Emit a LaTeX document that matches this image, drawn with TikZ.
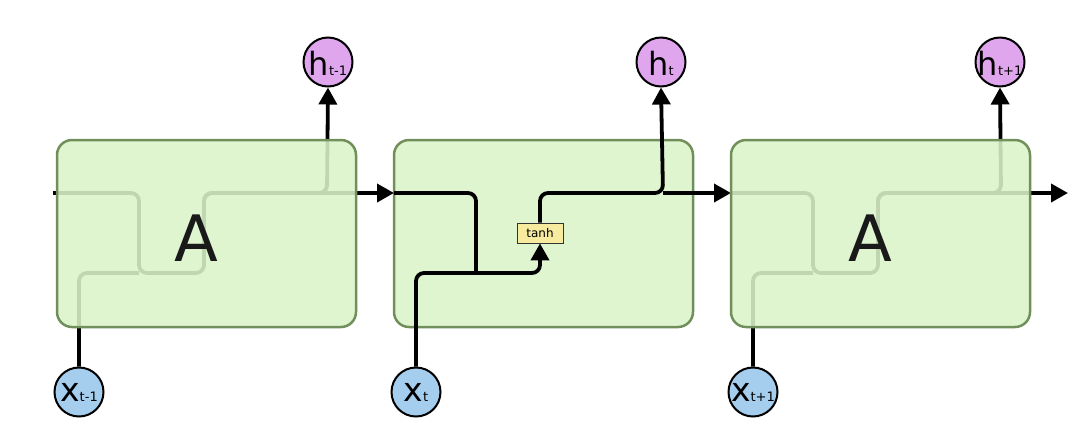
\documentclass[tikz,border=0pt]{standalone}
\usepackage{fontspec}
\setmainfont{DejaVu Sans}
\usetikzlibrary{arrows.meta}
\definecolor{boxfill}{HTML}{DFF5D0}
\definecolor{ghostfill}{HTML}{DBF4CA}
\definecolor{boxdraw}{HTML}{718F5A}
\definecolor{hfill}{HTML}{DFA6EE}
\definecolor{xfill}{HTML}{A5CDEE}
\definecolor{tanhfill}{HTML}{F7EBA0}
\tikzset{
  cell/.style={draw=boxdraw, line width=2.5pt, fill=boxfill, rounded corners=15pt,
    minimum width=299pt, minimum height=187pt, inner sep=0pt},
  ghostcell/.style={cell, fill=ghostfill, fill opacity=0.88},
  hcirc/.style={circle, draw=black, line width=2pt, fill=hfill, minimum size=49pt, inner sep=0pt},
  xcirc/.style={circle, draw=black, line width=2pt, fill=xfill, minimum size=49pt, inner sep=0pt},
  gate/.style={draw=black!80, line width=0.8pt, fill=tanhfill, minimum width=46pt,
    minimum height=20pt, inner sep=0pt, font=\fontsize{12}{12}\selectfont},
  wire/.style={line width=3.8pt, rounded corners=8pt},
  arrowwire/.style={wire, -{Triangle[length=17pt,width=18pt]}},
  bigletter/.style={font=\fontsize{64}{64}\selectfont, inner sep=0pt, text=black!90},
}
\newcommand{\hlab}[1]{{\fontsize{32}{32}\selectfont h}{\fontsize{13}{13}\selectfont #1}}
\newcommand{\xlab}[1]{{\fontsize{33}{33}\selectfont x}{\fontsize{13}{13}\selectfont #1}}
\begin{document}
\begin{tikzpicture}[x=1pt,y=-1pt]
\useasboundingbox (0,0) rectangle (1084,424);

% middle cell (opaque, below its wires)
\node[cell] (c2) at (543.5,233.5) {};

% circles
\node[hcirc, label={[inner sep=0pt, yshift=-1pt]center:\hlab{t-1}}] (h1) at (328,62) {};
\node[hcirc, label={[inner sep=0pt, yshift=-1pt]center:\hlab{t}}] (h2) at (661,62) {};
\node[hcirc, label={[inner sep=0pt, yshift=-1pt]center:\hlab{t+1}}] (h3) at (1000,62) {};
\node[xcirc, label={[inner sep=0pt]center:\xlab{t-1}}] (x1) at (79,392) {};
\node[xcirc, label={[inner sep=0pt]center:\xlab{t}}] (x2) at (416,392) {};
\node[xcirc, label={[inner sep=0pt]center:\xlab{t+1}}] (x3) at (753,392) {};

% tanh gate in middle cell
\node[gate] (tanh) at (540,233) {tanh};

% coordinates
\coordinate (l1) at (53,193);  \coordinate (m1) at (139,273); \coordinate (u1) at (204,233); \coordinate (o1) at (327,193);
\coordinate (l2) at (394,193); \coordinate (m2) at (476,273); \coordinate (o2) at (663,193);
\coordinate (l3) at (731,193); \coordinate (m3) at (813,273); \coordinate (u3) at (878,233); \coordinate (o3) at (1001,193);
\coordinate (end) at (1068,193);

% cell 1 wires (seen through the cell)
\draw[wire] (l1) -| (m1) -| (u1) |- (o1);
\draw[wire] (x1.north) |- (m1);
\draw[arrowwire] (u1) |- (o1) -- (h1.south);
\draw[arrowwire] (o1) -- (l2);

% cell 2 wires
\draw[wire] (l2) -| (m2);
\draw[arrowwire] (x2.north) |- (m2) -| (tanh.south);
\draw[arrowwire] (tanh.north) |- (o2) -- (h2.south);
\draw[arrowwire] (o2) -- (l3);

% cell 3 wires
\draw[wire] (l3) -| (m3) -| (u3) |- (o3);
\draw[wire] (x3.north) |- (m3);
\draw[arrowwire] (u3) |- (o3) -- (h3.south);
\draw[arrowwire] (o3) -- (end);

% translucent outer cells
\node[ghostcell] (c1) at (206.5,233.5) {};
\node[ghostcell] (c3) at (880.5,233.5) {};
\node[bigletter] (a1) at (196,238) {A};
\node[bigletter] (a3) at (870,238) {A};
\end{tikzpicture}
\end{document}
